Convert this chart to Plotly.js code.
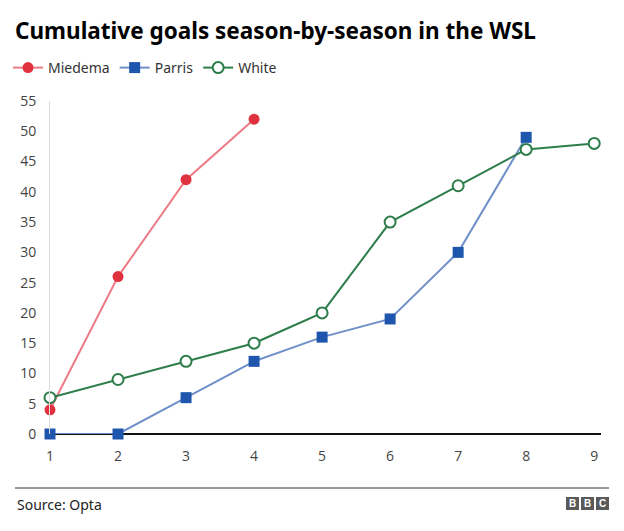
<!DOCTYPE html>
<html><head><meta charset="utf-8">
<script src="https://cdn.plot.ly/plotly-3.0.1.min.js"></script>
<style>html,body{margin:0;padding:0;background:#fff}#c{width:624px;height:531px}</style>
</head><body><div id="c"></div>
<script>
const seasons = [1,2,3,4,5,6,7,8,9];
const miedema = [4,26,42,52];
const parris = [0,0,6,12,16,19,30,49];
const white = [6,9,12,15,20,35,41,47,48];
const yTicks = [0,5,10,15,20,25,30,35,40,45,50,55];

const W=624,H=531,L=50,R=23,T=101,B=97;
const pw=W-L-R, ph=H-T-B;
const px = v => (v-L)/pw;
const py = v => (H-B-v)/ph;

const traces = [
 {x:seasons.slice(0,miedema.length), y:miedema, name:'Miedema', mode:'lines+markers',
  line:{color:'#ec7b85',width:2}, marker:{symbol:'circle',size:11,color:'#e0313f'}, cliponaxis:false},
 {x:seasons.slice(0,parris.length), y:parris, name:'Parris', mode:'lines+markers',
  line:{color:'#6f8fc9',width:2}, marker:{symbol:'square',size:11,color:'#1f56ad'}, cliponaxis:false},
 {x:seasons, y:white, name:'White', mode:'lines+markers',
  line:{color:'#2e7d4b',width:2}, marker:{symbol:'circle',size:11,color:'#ffffff',line:{color:'#2e7d4b',width:2}}, cliponaxis:false}
];

const shapes = [
 {type:'line',xref:'paper',yref:'paper',x0:px(15),x1:px(609),y0:py(488),y1:py(488),line:{color:'#333',width:1}},
];
const annotations = [
 {text:'Source: Opta',xref:'paper',yref:'paper',x:px(15),y:py(504),xanchor:'left',yanchor:'middle',showarrow:false,
  font:{family:'Noto Sans, Arial',size:14,color:'#222'}}
];
['B','B','C'].forEach((ch,i)=>{
  const x0=566+i*15;
  shapes.push({type:'rect',xref:'paper',yref:'paper',x0:px(x0),x1:px(x0+13),y0:py(510),y1:py(497),fillcolor:'#5a5a5a',line:{width:0}});
  annotations.push({text:'<b>'+ch+'</b>',xref:'paper',yref:'paper',x:px(x0+6.5),y:py(503.5),xanchor:'center',yanchor:'middle',showarrow:false,
   font:{family:'Arial, Liberation Sans',size:10,color:'#fff'}});
});

const layout = {
 width:W,height:H,margin:{l:L,r:R,t:T,b:B},
 paper_bgcolor:'#fff',plot_bgcolor:'#fff',
 title:{text:'<b>Cumulative goals season-by-season in the WSL</b>',x:15/W,xref:'container',xanchor:'left',
  y:1-31/H,yref:'container',yanchor:'middle',font:{family:'Noto Sans, Open Sans, Arial',size:22.5,color:'#000'}},
 showlegend:true,
 legend:{orientation:'h',xref:'container',yref:'container',x:8/W,y:1-68/H,xanchor:'left',yanchor:'middle',
  font:{family:'Noto Sans, Arial',size:14,color:'#333'},itemwidth:30,tracegroupgap:0,bgcolor:'rgba(0,0,0,0)'},
 xaxis:{range:[1,9.1],tickvals:seasons,showgrid:false,zeroline:false,showline:false,ticks:'',ticklabelstandoff:12,
  tickfont:{family:'Open Sans, Noto Sans, Arial',size:14,color:'#444'},fixedrange:true},
 yaxis:{range:[0,55],tickvals:yTicks,showgrid:false,zeroline:true,zerolinecolor:'#111',zerolinewidth:1.5,
  showline:true,linecolor:'#ddd',linewidth:1,ticks:'',ticklen:0,ticklabelstandoff:10,
  tickfont:{family:'Open Sans, Noto Sans, Arial',size:14,color:'#444'},fixedrange:true},
 shapes:shapes, annotations:annotations
};
Plotly.newPlot('c',traces,layout,{displayModeBar:false,staticPlot:true});
</script></body></html>
